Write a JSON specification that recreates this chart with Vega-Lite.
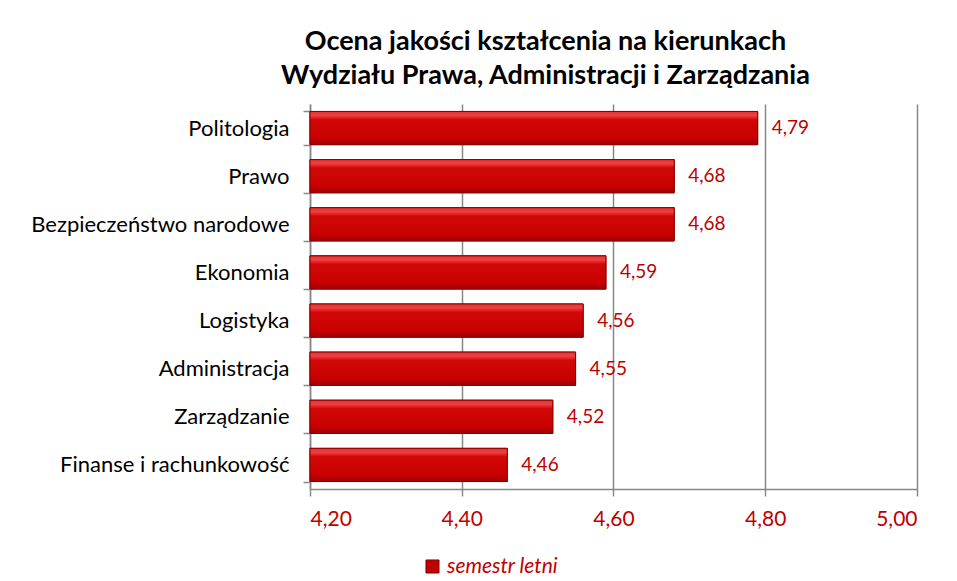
{
  "$schema": "https://vega.github.io/schema/vega-lite/v6.json",
  "autosize": {"type": "none"},
  "width": 607,
  "height": 385,
  "padding": {"left": 310, "top": 104, "right": 40, "bottom": 92},
  "background": "white",
  "config": {
    "locale": {"number": {"decimal": ",", "thousands": " ", "grouping": [3], "currency": ["", " zł"]}},
    "view": {"stroke": null},
    "font": "Lato"
  },
  "title": {
    "text": ["Ocena jakości kształcenia na kierunkach", "Wydziału Prawa, Administracji i Zarządzania"],
    "font": "Lato",
    "fontSize": 27,
    "fontWeight": "bold",
    "color": "#000000",
    "anchor": "middle",
    "frame": "group",
    "dx": -68,
    "offset": 3,
    "lineHeight": 34
  },
  "data": {
    "values": [
      {"kierunek": "Politologia", "ocena": 4.79, "seria": "semestr letni"},
      {"kierunek": "Prawo", "ocena": 4.68, "seria": "semestr letni"},
      {"kierunek": "Bezpieczeństwo narodowe", "ocena": 4.68, "seria": "semestr letni"},
      {"kierunek": "Ekonomia", "ocena": 4.59, "seria": "semestr letni"},
      {"kierunek": "Logistyka", "ocena": 4.56, "seria": "semestr letni"},
      {"kierunek": "Administracja", "ocena": 4.55, "seria": "semestr letni"},
      {"kierunek": "Zarządzanie", "ocena": 4.52, "seria": "semestr letni"},
      {"kierunek": "Finanse i rachunkowość", "ocena": 4.46, "seria": "semestr letni"}
    ]
  },
  "encoding": {
    "y": {
      "field": "kierunek",
      "type": "nominal",
      "sort": null,
      "scale": {"paddingInner": 0.31, "paddingOuter": 0.155},
      "axis": {
        "title": null,
        "domainColor": "#888888",
        "domainWidth": 1.5,
        "tickColor": "#888888",
        "tickWidth": 1.5,
        "tickSize": 7,
        "tickBand": "extent",
        "labelFont": "Lato",
        "labelFontSize": 22,
        "labelColor": "#000000",
        "labelPadding": 14,
        "labelLimit": 0,
        "grid": false
      }
    }
  },
  "layer": [
    {
      "mark": {"type": "bar", "stroke": "#8a0000", "strokeWidth": 1},
      "encoding": {
        "x": {
          "field": "ocena",
          "type": "quantitative",
          "scale": {"domain": [4.2, 5.0], "zero": false, "nice": false},
          "axis": {
            "title": null,
            "values": [4.2, 4.4, 4.6, 4.8, 5.0],
            "format": ".2f",
            "grid": true,
            "gridColor": "#888888",
            "gridWidth": 1.5,
            "domainColor": "#888888",
            "domainWidth": 1.5,
            "tickColor": "#888888",
            "tickWidth": 1.5,
            "tickSize": 7,
            "labelFont": "Lato",
            "labelFontSize": 21,
            "labelColor": "#c00000",
            "labelPadding": 12
          }
        },
        "x2": {"datum": 4.2},
        "color": {
          "field": "seria",
          "type": "nominal",
          "scale": {"range": ["#c00000"]},
          "legend": {
            "title": null,
            "orient": "none",
            "legendX": 112,
            "legendY": 452,
            "symbolType": "square",
            "symbolSize": 170,
            "symbolStrokeColor": "#8a0000",
            "symbolStrokeWidth": 1,
            "labelFont": "Lato",
            "labelFontSize": 21,
            "labelFontStyle": "italic",
            "labelColor": "#c00000",
            "labelOffset": 4
          }
        }
      }
    },
    {
      "mark": {
        "type": "bar",
        "stroke": "#8a0000",
        "strokeWidth": 1,
        "fill": {
          "gradient": "linear",
          "x1": 0, "y1": 0, "x2": 0, "y2": 1,
          "stops": [
            {"offset": 0, "color": "#e83030"},
            {"offset": 0.12, "color": "#f04040"},
            {"offset": 0.25, "color": "#d20808"},
            {"offset": 0.8, "color": "#c80000"},
            {"offset": 1, "color": "#a00000"}
          ]
        }
      },
      "encoding": {
        "x": {"field": "ocena", "type": "quantitative"},
        "x2": {"datum": 4.2}
      }
    },
    {
      "mark": {"type": "text", "align": "left", "baseline": "middle", "dx": 14, "font": "Lato", "fontSize": 19, "color": "#c00000"},
      "encoding": {
        "x": {"field": "ocena", "type": "quantitative"},
        "text": {"field": "ocena", "type": "quantitative", "format": ".2f"}
      }
    }
  ]
}
